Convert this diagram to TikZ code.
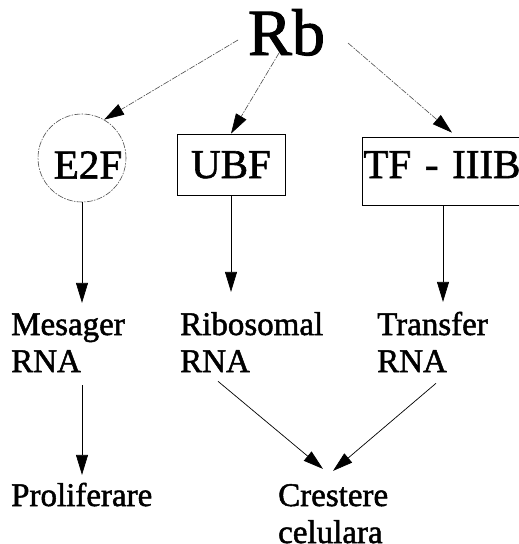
\documentclass[tikz,border=0pt]{standalone}
\usepackage{fontspec}
\setmainfont{Liberation Serif}[FakeBold=1.5]
\usetikzlibrary{arrows.meta,calc}

% text block, top-aligned on its first baseline
\newcommand{\txtblock}[1]{\begin{tabular}[t]{@{}l@{}}#1\end{tabular}}

\begin{document}
\begin{tikzpicture}[x=1pt,y=-1pt,
  faint/.style={draw=black!70, line width=0.6pt,
    dash pattern=on 6pt off 1.3pt on 1.5pt off 1.3pt},
  head/.style={-{Triangle[length=20pt,width=12pt,black]}},
  faintarrow/.style={faint, head},
  solidarrow/.style={draw=black, line width=0.7pt, head},
  bigfont/.style={font=\fontsize{66}{70}\selectfont},
  boxfont/.style={font=\fontsize{41}{46}\selectfont},
  txt/.style={font=\fontsize{33}{37}\selectfont, anchor=base west, inner sep=0pt},
  factor/.style={draw=black, line width=0.7pt, boxfont, inner ysep=0pt}
]
\useasboundingbox (0,0) rectangle (519,544);

% regulator
\node[bigfont, anchor=base, inner sep=0pt] (rb) at (286.5,55) {Rb};

% transcription factors
\node[circle, faint, minimum size=88pt, inner sep=0pt,
      label={[boxfont, inner sep=0pt, xshift=6pt, yshift=-7pt]center:E2F}]
      (e2f) at (82,158) {};
\node[factor, minimum width=108pt, text height=44pt, text depth=17pt,
      anchor=base] (ubf) at (231,178) {UBF};
\node[factor, text width=172pt, align=left, inner xsep=1pt,
      text height=41pt, text depth=27pt, anchor=base west]
      (tf) at (362,178) {TF - IIIB};
\coordinate (tfout) at ($(tf.south west)+(81,0)$);

% products
\node[txt] (mes) at (11,335)  {\txtblock{Mesager\\RNA}};
\node[txt] (rib) at (180,335) {\txtblock{Ribosomal\\RNA}};
\node[txt] (tra) at (377,335) {\txtblock{Transfer\\RNA}};

% outcomes
\node[txt] (pro) at (11,506)  {\txtblock{Proliferare}};
\node[txt] (cre) at (278,506) {\txtblock{Crestere\\celulara}};

% Rb acts on the three factors
\draw[faintarrow] ($(rb.base)+(-48.5,-15)$) -- (e2f.60);
\draw[faintarrow] ($(rb.base)+(-7.5,-2)$) -- (ubf.north);
\draw[faintarrow] ($(rb.base)+(61.5,-12)$) -- ($(tf.north west)+(90,-4)$);

% factors drive the RNA classes
\draw[solidarrow, shorten >=6pt] (e2f.south) -- (e2f.south |- mes.north);
\draw[solidarrow, shorten >=17pt] (ubf.south) -- (ubf.south |- rib.north);
\draw[solidarrow, shorten >=7pt] (tfout) -- (tfout |- tra.north);

% RNA classes lead to the outcomes
\draw[solidarrow, shorten <=2pt, shorten >=5pt] (e2f.south |- mes.south) -- (e2f.south |- pro.north);
\draw[solidarrow] ($(rib.south west)+(38,-2)$) -- ($(cre.north west)+(45,-11)$);
\draw[solidarrow] ($(tra.south west)+(59,0)$) -- ($(cre.north west)+(55,-9)$);
\end{tikzpicture}
\end{document}
